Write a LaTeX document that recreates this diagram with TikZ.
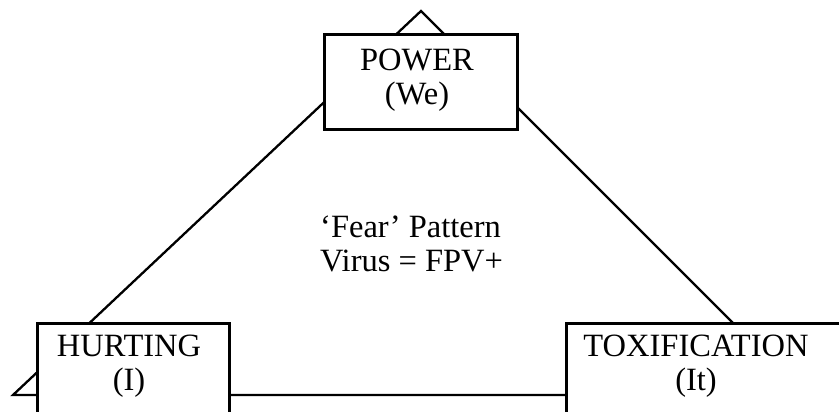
\documentclass[tikz,border=0pt]{standalone}
\usepackage{fontspec}
\setmainfont{Liberation Serif}
\begin{document}
\begin{tikzpicture}[x=1pt,y=-1pt,
  tri/.style={line width=2.3pt},
  boxnode/.style={draw, line width=3pt, fill=white, inner sep=0pt},
  lbl/.style={inner sep=0pt, align=center, font=\fontsize{32.5}{33.5}\selectfont},
]
\useasboundingbox (0,0) rectangle (839,412);
\clip (0,0) rectangle (839,412);
\coordinate (L) at (13,395);
\coordinate (T) at (421,11);
\coordinate (R) at (805,395);
\draw[tri] (L) -- (T) -- (R) -- cycle;
\node[boxnode, minimum width=193pt, minimum height=95pt] (power) at (420.5,82.5) {};
\node[lbl] (powertxt) at (417,80) {POWER\\(We)};
\node[boxnode, minimum width=192pt, minimum height=95pt] (hurt) at (133,370.5) {};
\node[lbl] (hurttxt) at (129,366) {HURTING\\(I)};
\node[boxnode, minimum width=290pt, minimum height=95pt] (tox) at (711,370.5) {};
\node[lbl] (toxtxt) at (696,366) {TOXIFICATION\\(It)};
\node[lbl, align=left, anchor=north west] (center) at (320,216) {‘Fear’ Pattern\\Virus = FPV+};
\end{tikzpicture}
\end{document}
